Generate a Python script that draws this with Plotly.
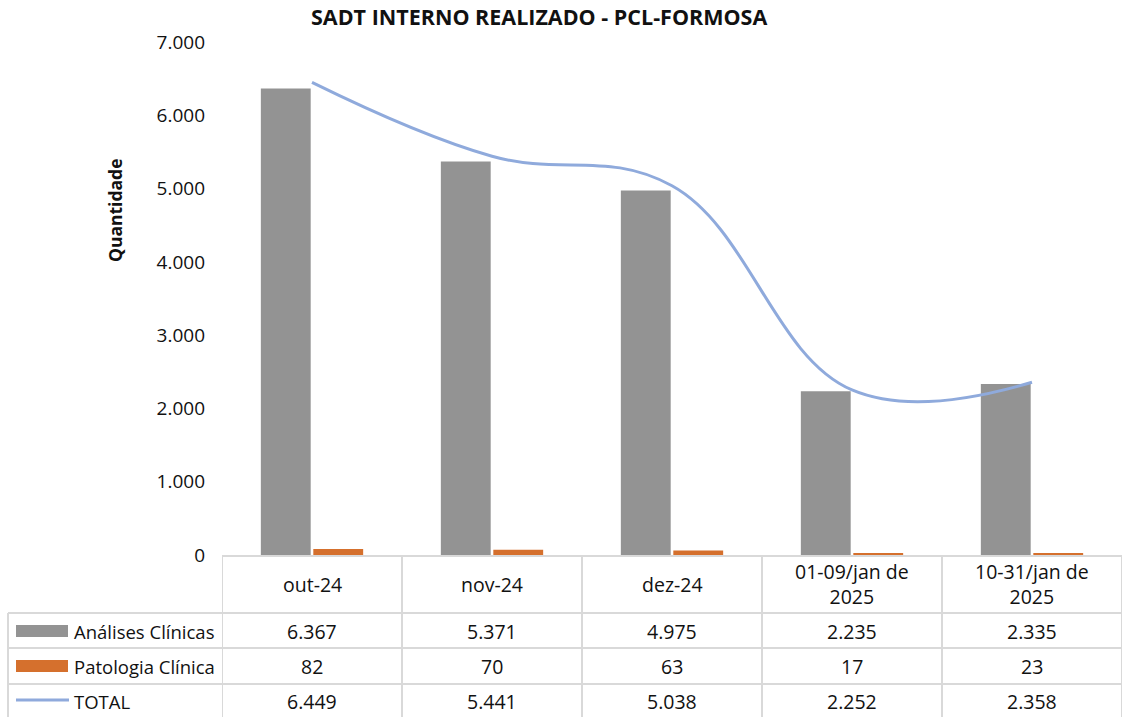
import plotly.graph_objects as go

# --- data ---------------------------------------------------------------
categories = ["out-24", "nov-24", "dez-24", "01-09/jan de<br>2025", "10-31/jan de<br>2025"]
analises_clinicas = [6367, 5371, 4975, 2235, 2335]
patologia_clinica = [82, 70, 63, 17, 23]
total = [6449, 5441, 5038, 2252, 2358]
series_names = ["Análises Clínicas", "Patologia Clínica", "TOTAL"]
y_ticks = [0, 1000, 2000, 3000, 4000, 5000, 6000, 7000]

# --- styling / geometry -------------------------------------------------
W, H = 1123, 717
ML, MR, MT, MB = 222, 1, 42, 162
PW, PH = W - ML - MR, H - MT - MB
FONT = "Open Sans"
GRAY, ORANGE, BLUE = "#939393", "#D5702D", "#8FAADC"
GRID = "#D9D9D9"
TXT = "#111111"


def px_x(px):
    return (px - ML) / PW


def px_y(py):
    return (H - MB - py) / PH


def fmt(v):
    return f"{v:,}".replace(",", ".")


x_idx = list(range(len(categories)))

fig = go.Figure()
fig.add_bar(x=x_idx, y=analises_clinicas, name=series_names[0],
            marker=dict(color=GRAY, line=dict(width=0)))
fig.add_bar(x=x_idx, y=patologia_clinica, name=series_names[1],
            marker=dict(color=ORANGE, line=dict(width=0)))
fig.add_scatter(x=x_idx, y=total, name=series_names[2], mode="lines",
                line=dict(color=BLUE, width=3, shape="spline", smoothing=1.15))

shapes = []
annotations = []

# data table grid
row_lines = [613, 648, 684]
for i in range(len(categories) + 1):
    shapes.append(dict(type="line", xref="x", yref="paper",
                       x0=i - 0.5, x1=i - 0.5, y0=px_y(555), y1=px_y(717),
                       line=dict(color=GRID, width=2)))
for ry in row_lines:
    shapes.append(dict(type="line", xref="paper", yref="paper",
                       x0=px_x(8), x1=1.0, y0=px_y(ry), y1=px_y(ry),
                       line=dict(color=GRID, width=2)))
shapes.append(dict(type="line", xref="paper", yref="paper",
                   x0=px_x(8), x1=px_x(8), y0=px_y(613), y1=px_y(717),
                   line=dict(color=GRID, width=2)))

# category header row
for i, c in enumerate(categories):
    annotations.append(dict(x=i, xref="x", y=px_y(584), yref="paper",
                            text=c, showarrow=False,
                            font=dict(family=FONT, size=19.5, color=TXT),
                            align="center", yanchor="middle"))

# value rows with legend keys
row_centers = [631, 666, 701]
row_values = [analises_clinicas, patologia_clinica, total]
for r, (cy, vals, name) in enumerate(zip(row_centers, row_values, series_names)):
    if r < 2:
        shapes.append(dict(type="rect", xref="paper", yref="paper",
                           x0=px_x(16), x1=px_x(68), y0=px_y(cy - 6), y1=px_y(cy + 6),
                           fillcolor=[GRAY, ORANGE][r], line=dict(width=0)))
    else:
        shapes.append(dict(type="line", xref="paper", yref="paper",
                           x0=px_x(16), x1=px_x(69), y0=px_y(cy - 1), y1=px_y(cy - 1),
                           line=dict(color=BLUE, width=3)))
    annotations.append(dict(x=px_x(72), xref="paper", y=px_y(cy), yref="paper",
                            text=name, showarrow=False, xanchor="left", yanchor="middle",
                            font=dict(family=FONT, size=18.5, color=TXT)))
    for i, v in enumerate(vals):
        annotations.append(dict(x=i, xref="x", y=px_y(cy), yref="paper",
                                text=fmt(v), showarrow=False, yanchor="middle",
                                font=dict(family=FONT, size=19.5, color=TXT)))

# chart title and axis title
annotations.append(dict(x=px_x(539), xref="paper", y=px_y(17), yref="paper",
                        text="<b>SADT INTERNO REALIZADO - PCL-FORMOSA</b>",
                        showarrow=False, yanchor="middle",
                        font=dict(family=FONT, size=21.5, color=TXT)))
annotations.append(dict(x=px_x(115), xref="paper", y=px_y(210), yref="paper",
                        text="<b>Quantidade</b>", textangle=-90,
                        showarrow=False, yanchor="middle", xanchor="center",
                        font=dict(family=FONT, size=17.5, color=TXT)))

fig.update_layout(
    width=W, height=H,
    margin=dict(l=ML, r=MR, t=MT, b=MB, pad=0),
    paper_bgcolor="white", plot_bgcolor="white",
    showlegend=False,
    barmode="group", bargap=0.417, bargroupgap=0.05,
    separators=",.",
    shapes=shapes, annotations=annotations,
    xaxis=dict(range=[-0.5, len(categories) - 0.5], showticklabels=False,
               showgrid=False, zeroline=False, showline=True,
               linecolor=GRID, linewidth=2, ticks=""),
    yaxis=dict(range=[0, 7000], tickvals=y_ticks, tickformat=",.0f",
               showgrid=False, zeroline=False, showline=False, ticks="",
               ticklabelstandoff=16,
               tickfont=dict(family=FONT, size=19, color=TXT)),
)

fig.write_html("out.html")
